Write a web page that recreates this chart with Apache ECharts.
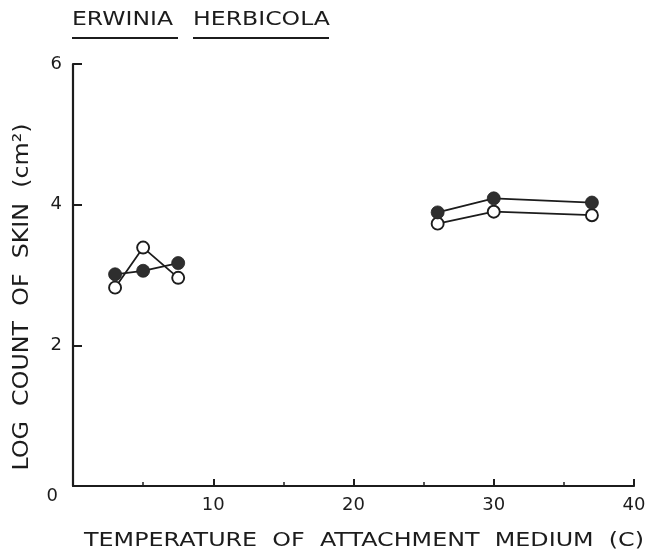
<!DOCTYPE html>
<html>
<head>
<meta charset="utf-8">
<title>Erwinia herbicola attachment</title>
<script src="https://cdn.jsdelivr.net/npm/echarts@6/dist/echarts.min.js"></script>
<style>
  html, body { margin: 0; padding: 0; background: #fff; }
  #chart { width: 650px; height: 556px; }
</style>
</head>
<body>
<div id="chart"></div>
<script>
// Temperature of attachment medium (C), two separate experimental ranges
const lowTemps = [3, 5, 7.5];
const highTemps = [26, 30, 37];

// Log count of bacteria on skin (per cm2)
const filledLow = [3.01, 3.06, 3.17];
const filledHigh = [3.89, 4.09, 4.03];
const openLow = [2.82, 3.39, 2.96];
const openHigh = [3.73, 3.90, 3.85];

const yTicks = [0, 2, 4, 6];
const xTicks = [0, 10, 20, 30, 40];

const titleWords = ['ERWINIA', 'HERBICOLA'];
const xTitle = 'TEMPERATURE  OF  ATTACHMENT  MEDIUM  (C)';
const yTitle = 'LOG  COUNT  OF  SKIN  (cm²)';

const INK = '#1c1c1c';
const FONT = '"DejaVu Sans", sans-serif';

// Horizontal stretch factor so a label spans a given width (wide lettering)
const measureCtx = document.createElement('canvas').getContext('2d');
function stretch(text, size, width) {
  measureCtx.font = size + 'px ' + FONT;
  return width / measureCtx.measureText(text).width;
}

function pairs(xs, ys) {
  return xs.map((x, i) => [x, ys[i]]);
}

const openStyle = {
  type: 'line',
  symbol: 'circle',
  symbolSize: 12,
  itemStyle: { color: '#fff', borderColor: INK, borderWidth: 1.9 },
  lineStyle: { color: INK, width: 1.8 },
  z: 2,
  animation: false
};
const filledStyle = {
  type: 'line',
  symbol: 'circle',
  symbolSize: 13,
  itemStyle: { color: '#2e2e2e', borderColor: '#222', borderWidth: 0.8 },
  lineStyle: { color: INK, width: 1.8 },
  z: 3,
  animation: false
};

function textEl(text, size, x, y, width, align, rotation) {
  return {
    type: 'text',
    x: x,
    y: y,
    rotation: rotation || 0,
    scaleX: stretch(text, size, width),
    style: {
      text: text,
      x: 0,
      y: 0,
      font: size + 'px ' + FONT,
      fill: INK,
      textAlign: align,
      textVerticalAlign: 'middle'
    }
  };
}

const chart = echarts.init(document.getElementById('chart'), null, { renderer: 'canvas' });

chart.setOption({
  backgroundColor: '#fff',
  animation: false,
  grid: { left: 73, right: 16, top: 64, bottom: 70, outerBoundsMode: 'none' },
  xAxis: {
    type: 'value',
    min: xTicks[0],
    max: xTicks[xTicks.length - 1],
    interval: 10,
    axisLine: { show: true, onZero: false, lineStyle: { color: INK, width: 2.2 } },
    axisTick: { show: true, inside: true, length: 7, lineStyle: { color: INK, width: 2 } },
    minorTick: { show: true, splitNumber: 2, length: 4, lineStyle: { color: INK, width: 1.5 } },
    splitLine: { show: false },
    axisLabel: {
      margin: 10,
      color: INK,
      fontFamily: FONT,
      fontSize: 18,
      formatter: v => (v === 0 ? '' : String(v))
    }
  },
  yAxis: {
    type: 'value',
    min: yTicks[0],
    max: yTicks[yTicks.length - 1],
    interval: 2,
    axisLine: { show: true, onZero: false, lineStyle: { color: INK, width: 2.2 } },
    axisTick: { show: true, inside: true, length: 9, lineStyle: { color: INK, width: 2 } },
    splitLine: { show: false },
    axisLabel: {
      margin: 11,
      color: INK,
      fontFamily: FONT,
      fontSize: 18,
      formatter: v => (v === 0 ? '{z|0}' : String(v)),
      rich: { z: { fontFamily: FONT, fontSize: 18, color: INK, padding: [20, 4, 0, 0] } }
    }
  },
  series: [
    Object.assign({ name: 'open-low', data: pairs(lowTemps, openLow) }, openStyle),
    Object.assign({ name: 'open-high', data: pairs(highTemps, openHigh) }, openStyle),
    Object.assign({ name: 'filled-low', data: pairs(lowTemps, filledLow) }, filledStyle),
    Object.assign({ name: 'filled-high', data: pairs(highTemps, filledHigh) }, filledStyle)
  ],
  graphic: [
    textEl(titleWords[0], 20, 72, 20, 101, 'left'),
    textEl(titleWords[1], 20, 193, 20, 137, 'left'),
    { type: 'line', shape: { x1: 72, y1: 38, x2: 178, y2: 38 }, style: { stroke: INK, lineWidth: 2.2 } },
    { type: 'line', shape: { x1: 193, y1: 38, x2: 329, y2: 38 }, style: { stroke: INK, lineWidth: 2.2 } },
    textEl(xTitle, 20, 364, 541, 560, 'center'),
    textEl(yTitle, 21, 23, 297, 347, 'center', Math.PI / 2)
  ]
});
</script>
</body>
</html>
